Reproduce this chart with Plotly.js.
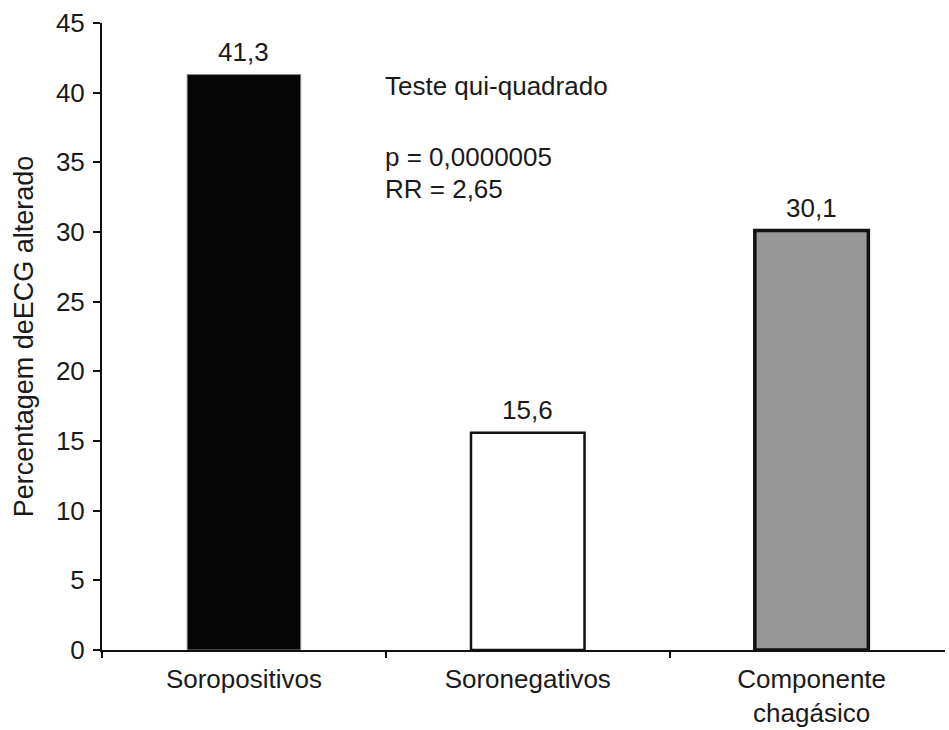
<!DOCTYPE html>
<html>
<head>
<meta charset="utf-8">
<script src="https://cdn.plot.ly/plotly-3.0.1.min.js"></script>
<style>html,body{margin:0;padding:0;background:#fff;}</style>
</head>
<body>
<div id="chart" style="width:949px;height:730px;"></div>
<script>
const categories = ["Soropositivos", "Soronegativos", "Componente<br>chagásico"];
const values = [41.3, 15.6, 30.1];
const valueLabels = ["41,3", "15,6", "30,1"];
const barColors = ["#050505", "#ffffff", "#979797"];
const lineColors = ["#888888", "#111111", "#111111"];
const lineWidths = [1, 2.5, 3.5];
const yTicks = [0, 5, 10, 15, 20, 25, 30, 35, 40, 45];
const notes = ["Teste qui-quadrado", "p = 0,0000005", "RR = 2,65"];
const noteY = [40.5, 35.35, 33.1];

const font = {family: "Liberation Sans, Arial, sans-serif", size: 26, color: "#1a1a1a"};

const trace = {
  type: "bar",
  x: categories,
  y: values,
  marker: {color: barColors, line: {color: lineColors, width: lineWidths}},
  hoverinfo: "skip"
};

const noteAnn = notes.map((t, i) => ({
  text: t, x: 0.49, y: noteY[i], xref: "x", yref: "y",
  xanchor: "left", yanchor: "middle", showarrow: false, font: font
}));

const valueAnn = categories.map((c, i) => ({
  text: valueLabels[i], x: c, y: values[i], xref: "x", yref: "y",
  xanchor: "center", yanchor: "bottom", yshift: 6, showarrow: false, font: font
}));

const layout = {
  width: 949, height: 730,
  margin: {l: 102, r: 4, t: 23, b: 80},
  paper_bgcolor: "#fff", plot_bgcolor: "#fff",
  bargap: 0.6,
  showlegend: false,
  font: font,
  xaxis: {
    type: "category",
    range: [-0.5, 2.47],
    automargin: false,
    showline: true, linecolor: "#111", linewidth: 2,
    ticks: "outside", tickson: "boundaries", ticklen: 6, tickwidth: 2, tickcolor: "#111",
    showgrid: false, zeroline: false,
    tickfont: font, ticklabelstandoff: 5
  },
  yaxis: {
    range: [0, 45],
    automargin: false,
    tickvals: yTicks,
    ticktext: yTicks.map(String),
    showline: true, linecolor: "#111", linewidth: 2,
    ticks: "outside", ticklen: 7, tickwidth: 2, tickcolor: "#111",
    showgrid: false, zeroline: false,
    tickfont: font, ticklabelstandoff: 3,
    title: {text: "Percentagem deECG alterado", font: {family: font.family, size: 27, color: font.color}, standoff: 14}
  },
  annotations: noteAnn.concat(valueAnn)
};

Plotly.newPlot("chart", [trace], layout, {displayModeBar: false, staticPlot: true});
</script>
</body>
</html>
